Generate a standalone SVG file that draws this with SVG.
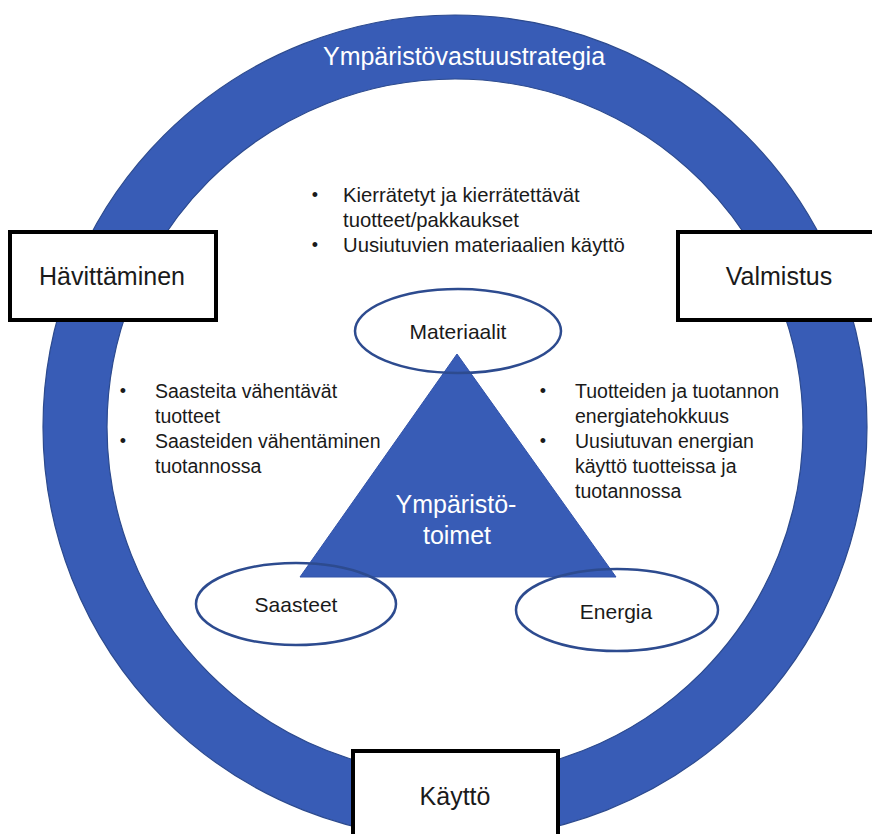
<svg xmlns="http://www.w3.org/2000/svg" width="872" height="834" viewBox="0 0 872 834">
  <style>
    .ring { fill: none; stroke: #385cb6; stroke-width: 64; }
    .ringedge { fill: none; stroke: #2c4a8e; stroke-width: 1.2; }
    .box { fill: #ffffff; stroke: #000000; stroke-width: 4; }
    .boxtxt { font-family: "Liberation Sans", Arial, sans-serif; font-size: 25px; fill: #1a1a1a; text-anchor: middle; }
    .ell { fill: none; stroke: #2d4b8f; stroke-width: 2.5; }
    .elltxt { font-family: "Liberation Sans", Arial, sans-serif; font-size: 21px; fill: #1a1a1a; text-anchor: middle; }
    .wtxt { font-family: "Liberation Sans", Arial, sans-serif; font-size: 25px; fill: #ffffff; text-anchor: middle; }
    .tri { fill: #385cb6; stroke: #3152a8; stroke-width: 1; }
    .bl { font-family: "Liberation Sans", Arial, sans-serif; font-size: 19.5px; fill: #1a1a1a; }
    .blt { font-family: "Liberation Sans", Arial, sans-serif; font-size: 20.3px; fill: #1a1a1a; }
    .dot { font-family: "Liberation Sans", Arial, sans-serif; font-size: 18px; fill: #1a1a1a; text-anchor: middle; }
  </style>
  <rect x="0" y="0" width="872" height="834" fill="#ffffff"/>

  <g id="strategy-ring">
    <circle class="ring" cx="455" cy="427" r="380"/>
    <circle class="ringedge" cx="455" cy="427" r="412"/>
    <circle class="ringedge" cx="455" cy="427" r="348"/>
    <text class="wtxt" x="464" y="65">Ympäristövastuustrategia</text>
  </g>

  <g id="havittaminen">
    <rect class="box" x="10" y="232" width="206" height="88"/>
    <text class="boxtxt" x="112" y="285">Hävittäminen</text>
  </g>

  <g id="valmistus">
    <rect class="box" x="678" y="232" width="196" height="88"/>
    <text class="boxtxt" x="779" y="285">Valmistus</text>
  </g>

  <g id="kaytto">
    <rect class="box" x="353" y="751" width="205" height="100"/>
    <text class="boxtxt" x="455" y="805">Käyttö</text>
  </g>

  <g id="ymparistotoimet">
    <polygon class="tri" points="457,354 300,577 616,577"/>
    <text class="wtxt" x="456" y="513">Ympäristö-</text>
    <text class="wtxt" x="457" y="544">toimet</text>
  </g>

  <g id="materiaalit">
    <ellipse class="ell" cx="458" cy="331" rx="103" ry="42"/>
    <text class="elltxt" x="458" y="339">Materiaalit</text>
  </g>

  <g id="saasteet">
    <ellipse class="ell" cx="296" cy="604" rx="100" ry="41"/>
    <text class="elltxt" x="296" y="612">Saasteet</text>
  </g>

  <g id="energia">
    <ellipse class="ell" cx="617" cy="610" rx="101" ry="41"/>
    <text class="elltxt" x="616" y="619">Energia</text>
  </g>

  <g id="materiaalit-bullets">
    <text class="dot" x="315" y="201">•</text>
    <text class="blt" x="343" y="202">Kierrätetyt ja kierrätettävät</text>
    <text class="blt" x="343" y="227">tuotteet/pakkaukset</text>
    <text class="dot" x="315" y="251">•</text>
    <text class="blt" x="343" y="252">Uusiutuvien materiaalien käyttö</text>
  </g>

  <g id="saasteet-bullets">
    <text class="dot" x="123" y="397">•</text>
    <text class="bl" x="155" y="398">Saasteita vähentävät</text>
    <text class="bl" x="155" y="423">tuotteet</text>
    <text class="dot" x="123" y="447">•</text>
    <text class="bl" x="155" y="448">Saasteiden vähentäminen</text>
    <text class="bl" x="155" y="473">tuotannossa</text>
  </g>

  <g id="energia-bullets">
    <text class="dot" x="543" y="397">•</text>
    <text class="bl" x="575" y="398">Tuotteiden ja tuotannon</text>
    <text class="bl" x="575" y="423">energiatehokkuus</text>
    <text class="dot" x="543" y="447">•</text>
    <text class="bl" x="575" y="448">Uusiutuvan energian</text>
    <text class="bl" x="575" y="473">käyttö tuotteissa ja</text>
    <text class="bl" x="575" y="498">tuotannossa</text>
  </g>
</svg>
